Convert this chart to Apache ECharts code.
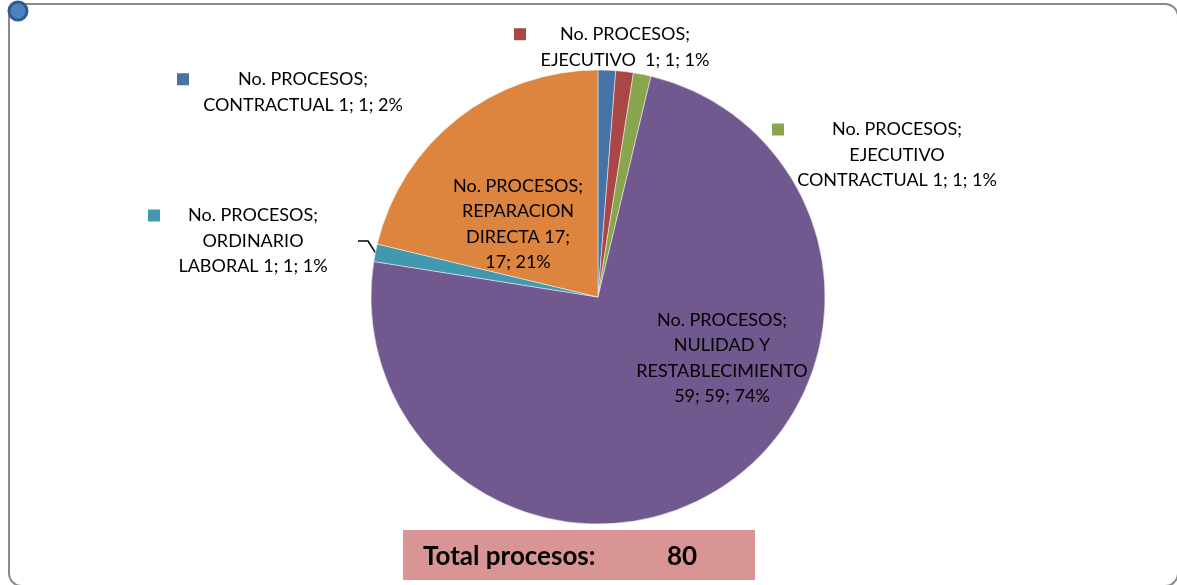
<!DOCTYPE html>
<html>
<head>
<meta charset="utf-8">
<script src="https://cdn.jsdelivr.net/npm/echarts@6/dist/echarts.min.js"></script>
<style>
  html, body { margin: 0; padding: 0; background: #fff; }
  #chart { width: 1177px; height: 585px; }
</style>
</head>
<body>
<div id="chart"></div>
<script>
// data
const categories = ['CONTRACTUAL', 'EJECUTIVO', 'EJECUTIVO CONTRACTUAL', 'NULIDAD Y RESTABLECIMIENTO', 'ORDINARIO LABORAL', 'REPARACION DIRECTA']
const values = [1, 1, 1, 59, 1, 17]
const labelTexts = [
  ['No. PROCESOS;', 'CONTRACTUAL 1; 1; 2%'],
  ['No. PROCESOS;', 'EJECUTIVO  1; 1; 1%'],
  ['No. PROCESOS;', 'EJECUTIVO', 'CONTRACTUAL 1; 1; 1%'],
  ['No. PROCESOS;', 'NULIDAD Y', 'RESTABLECIMIENTO', '59; 59; 74%'],
  ['No. PROCESOS;', 'ORDINARIO', 'LABORAL 1; 1; 1%'],
  ['No. PROCESOS;', 'REPARACION', 'DIRECTA 17;', '17; 21%']
]
const totalLabel = 'Total procesos:'
const totalValue = 80

// styles
const colors = ['#4572a7', '#aa4643', '#89a54e', '#71588f', '#4198af', '#dd843e']
const hasKey = [true, true, true, false, true, false]
const labelWidths = [252, 222, 250, 200, 210, 160]
const labelCenters = [[303, 92], [625, 47], [897, 155], [722, 358], [253, 241], [518, 224]]
const showLine = [false, false, false, false, true, false]

const chart = echarts.init(document.getElementById('chart'), null, { renderer: 'canvas' })

const seriesData = categories.map((c, i) => ({
  name: c,
  value: values[i],
  itemStyle: { color: colors[i] },
  label: {
    width: labelWidths[i],
    formatter: () => {
      const lines = labelTexts[i].map((t, k) => {
        if (k === 0 && hasKey[i]) return '{sq|}{t|' + t + '}{sp|}'
        return '{t|' + t + '}'
      })
      return lines.join('\n')
    },
    rich: {
      sq: { width: 12, height: 12, backgroundColor: colors[i], align: 'left' },
      sp: { width: 12, height: 12, align: 'right' },
      t: { fontSize: 18, lineHeight: 25.5, color: '#000', align: 'center', fontFamily: 'Lato' }
    }
  },
  labelLine: { show: showLine[i] }
}))

const option = {
  backgroundColor: '#fff',
  animation: false,
  graphic: [
    {
      type: 'rect',
      shape: { x: 9, y: 4, width: 1169, height: 582, r: 13 },
      style: { fill: 'none', stroke: '#8a8a8a', lineWidth: 2 },
      z: 0
    },
    {
      type: 'circle',
      shape: { cx: 18, cy: 11, r: 9 },
      style: { fill: '#4f81bd', stroke: '#2f5a93', lineWidth: 3 },
      z: 10
    },
    {
      type: 'group',
      left: 403,
      top: 530,
      children: [
        {
          type: 'rect',
          shape: { x: 0, y: 0, width: 352, height: 50 },
          style: { fill: '#d99594' }
        },
        {
          type: 'text',
          x: 20, y: 27,
          style: { text: totalLabel, font: 'bold 26px Lato', fill: '#000', verticalAlign: 'middle' }
        },
        {
          type: 'text',
          x: 264, y: 27,
          style: { text: String(totalValue), font: 'bold 26px Lato', fill: '#000', verticalAlign: 'middle' }
        }
      ]
    }
  ],
  series: [
    {
      type: 'pie',
      center: [598, 297],
      radius: 227,
      startAngle: 90,
      clockwise: true,
      avoidLabelOverlap: false,
      itemStyle: { borderColor: 'rgba(255,255,255,0.6)', borderWidth: 0.8 },
      label: {
        show: true,
        position: 'outside',
        color: '#000'
      },
      labelLine: {
        length: 10,
        length2: 10,
        lineStyle: { color: '#000', width: 1.5 }
      },
      labelLayout: (params) => {
        const c = labelCenters[params.dataIndex]
        return { x: c[0], y: c[1], align: 'center', verticalAlign: 'middle' }
      },
      data: seriesData
    }
  ]
}

chart.setOption(option)
</script>
</body>
</html>
